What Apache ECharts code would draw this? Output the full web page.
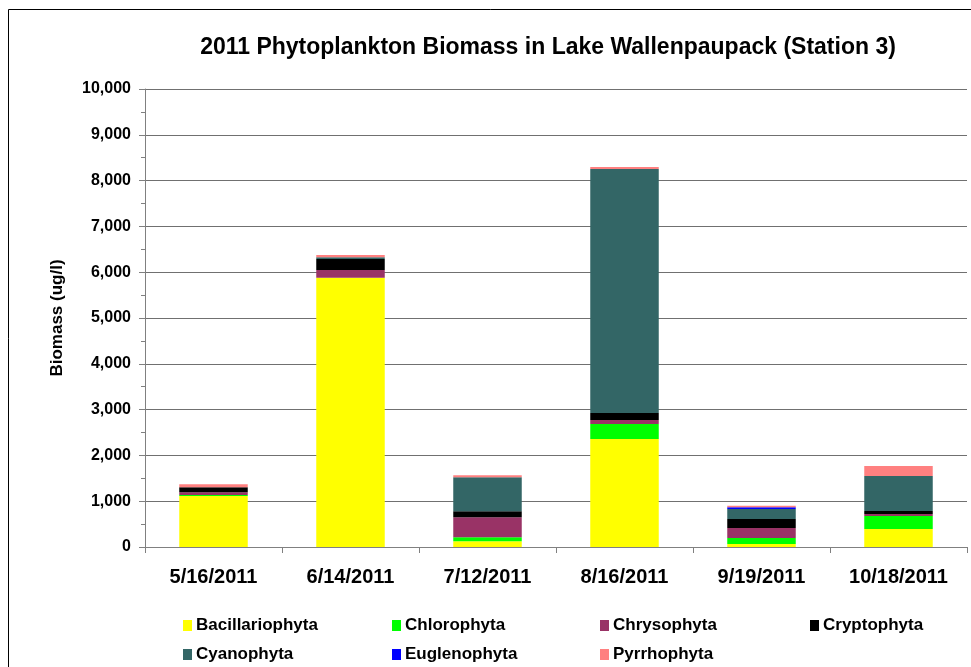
<!DOCTYPE html>
<html style="height: 100%">
<head>
    <meta charset="utf-8">
</head>
<body style="height: 100%; margin: 0; background: #fff">
    <div id="container" style="width: 971px; height: 667px"></div>
    <script src="https://cdn.jsdelivr.net/npm/echarts@6/dist/echarts.min.js"></script>
    <script>
        const dates = ['5/16/2011', '6/14/2011', '7/12/2011', '8/16/2011', '9/19/2011', '10/18/2011'];
        const groups = ['Bacillariophyta', 'Chlorophyta', 'Chrysophyta', 'Cryptophyta', 'Cyanophyta', 'Euglenophyta', 'Pyrrhophyta'];
        const bacillariophyta = [1114, 5880, 125, 2358, 65, 393];
        const chlorophyta = [20, 0, 87, 328, 131, 284];
        const chrysophyta = [60, 168, 437, 87, 218, 44];
        const cryptophyta = [110, 240, 131, 153, 197, 65];
        const cyanophyta = [0, 37, 742, 5328, 218, 764];
        const euglenophyta = [0, 0, 0, 0, 37, 0];
        const pyrrhophyta = [65, 50, 44, 44, 35, 218];
        const values = [bacillariophyta, chlorophyta, chrysophyta, cryptophyta, cyanophyta, euglenophyta, pyrrhophyta];
        const colors = ['#FFFF00', '#00FF00', '#993366', '#000000', '#336666', '#0000FF', '#FF8080'];

        const font = 'Arial, "Liberation Sans", sans-serif';
        const myChart = echarts.init(document.getElementById('container'));

        // legend slots: 4 columns, 2 rows
        const legendLeft = [178, 387, 595, 805];
        const legendTop = [612, 641];
        const legends = groups.map((name, i) => ({
            data: [name],
            left: legendLeft[i % 4],
            top: legendTop[Math.floor(i / 4)],
            itemWidth: 9,
            itemHeight: 11,
            itemGap: 0,
            icon: 'rect',
            selectedMode: false,
            textStyle: {
                color: '#000',
                fontFamily: font,
                fontSize: 17,
                fontWeight: 'bold',
                padding: [0, 0, 0, -1]
            }
        }));

        const option = {
            animation: false,
            color: colors,
            title: {
                text: '2011 Phytoplankton Biomass in Lake Wallenpaupack (Station 3)',
                left: 543,
                top: 31,
                textAlign: 'center',
                textStyle: {
                    color: '#000',
                    fontFamily: font,
                    fontSize: 23,
                    fontWeight: 'bold'
                }
            },
            graphic: [{
                type: 'rect',
                shape: { x: 8.5, y: 9.5, width: 1000, height: 700 },
                style: { fill: 'none', stroke: '#000', lineWidth: 1 }
            }],
            grid: {
                left: 145,
                right: 4,
                top: 89,
                bottom: 120
            },
            legend: legends,
            xAxis: {
                type: 'category',
                data: dates,
                axisLine: { lineStyle: { color: '#808080', width: 1 } },
                axisTick: { show: true, length: 6, lineStyle: { color: '#808080' } },
                axisLabel: {
                    interval: 0,
                    color: '#000',
                    fontFamily: font,
                    fontSize: 20,
                    fontWeight: 'bold',
                    margin: 20
                }
            },
            yAxis: {
                type: 'value',
                min: 0,
                max: 10000,
                interval: 1000,
                name: 'Biomass (ug/l)',
                nameLocation: 'middle',
                nameGap: 79,
                nameTextStyle: {
                    color: '#000',
                    fontFamily: font,
                    fontSize: 17,
                    fontWeight: 'bold'
                },
                axisLine: { show: true, lineStyle: { color: '#808080' } },
                axisTick: { show: true, length: 6, lineStyle: { color: '#808080' } },
                minorTick: { show: true, splitNumber: 2, length: 4, lineStyle: { color: '#808080' } },
                splitLine: { show: true, lineStyle: { color: '#707070', width: 1 } },
                axisLabel: {
                    color: '#000',
                    fontFamily: font,
                    fontSize: 16,
                    fontWeight: 'bold',
                    margin: 14,
                    formatter: v => v.toLocaleString('en-US')
                }
            },
            series: groups.map((name, i) => ({
                name: name,
                type: 'bar',
                stack: 'total',
                barWidth: '50%',
                data: values[i],
                itemStyle: { color: colors[i] }
            }))
        };

        myChart.setOption(option);
    </script>
</body>
</html>
